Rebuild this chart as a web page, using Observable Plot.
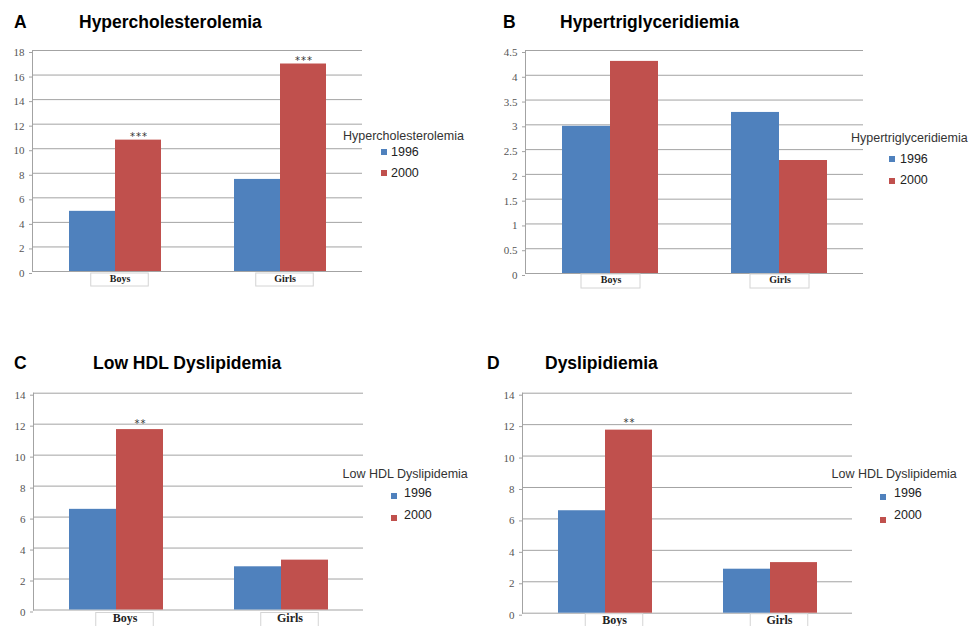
<!DOCTYPE html>
<html>
<head>
<meta charset="utf-8">
<script src="https://cdn.jsdelivr.net/npm/d3@7"></script>
<script src="https://cdn.jsdelivr.net/npm/@observablehq/plot@0.6"></script>
<style>
  body { margin: 0; background: #fff; }
  #root { position: relative; width: 974px; height: 626px; overflow: hidden; background: #fff;
          font-family: "Liberation Sans", Arial, sans-serif; }
  .panel { position: absolute; }
  .panel svg { overflow: visible; }
  .lbl { position: absolute; font-weight: bold; font-size: 17.5px; color: #000; line-height: 1; white-space: nowrap; }
  .legt { position: absolute; font-size: 12.5px; color: #333; line-height: 1; white-space: nowrap; }
  .legi { position: absolute; font-size: 12.5px; color: #222; line-height: 1; white-space: nowrap; }
  .sw { position: absolute; width: 6px; height: 6px; }
  g[aria-label="catlabel"] text { letter-spacing: 1.2px; }
</style>
</head>
<body>
<div id="root"></div>
<script>
// ---------- data ----------
const categories = ["Boys", "Girls"];
const years = ["1996", "2000"];
const colors = ["#4F81BD", "#C0504D"];

const hyperChol1996 = [4.9, 7.5];
const hyperChol2000 = [10.7, 16.9];
const hyperCholSig = ["***", "***"];
const hyperCholTicks = [0, 2, 4, 6, 8, 10, 12, 14, 16, 18];

const hyperTri1996 = [2.97, 3.25];
const hyperTri2000 = [4.28, 2.28];
const hyperTriSig = ["", ""];
const hyperTriTicks = [0, 0.5, 1, 1.5, 2, 2.5, 3, 3.5, 4, 4.5];

const lowHdl1996 = [6.5, 2.79];
const lowHdl2000 = [11.65, 3.22];
const lowHdlSig = ["**", ""];
const lowHdlTicks = [0, 2, 4, 6, 8, 10, 12, 14];

const dys1996 = [6.52, 2.8];
const dys2000 = [11.65, 3.22];
const dysSig = ["**", ""];
const dysTicks = [0, 2, 4, 6, 8, 10, 12, 14];

// ---------- layout (styles & positions only) ----------
const panels = [
  { letter: "A", title: "Hypercholesterolemia", legendTitle: "Hypercholesterolemia",
    v1996: hyperChol1996, v2000: hyperChol2000, sig: hyperCholSig, ticks: hyperCholTicks,
    left: 0, top: 0, width: 487, height: 300, mL: 31, mR: 125, mT: 50, mB: 29, po: 0.78,
    letterX: 14, titleX: 79, titleTop: 13.5,
    legX: 343, legTop: 130.4, swX: 381, sw1: 149, sw2: 170, txtX: 391, t1: 146.4, t2: 167.4,
    catSize: 10, catDy: 10, catDx: 5, boxW: 58, boxTop: 2, boxBot: 15, starDy: -3 },
  { letter: "B", title: "Hypertriglyceridiemia", legendTitle: "Hypertriglyceridiemia",
    v1996: hyperTri1996, v2000: hyperTri2000, sig: hyperTriSig, ticks: hyperTriTicks,
    left: 487, top: 0, width: 487, height: 300, mL: 38, mR: 111, mT: 50, mB: 27, po: 0.76,
    letterX: 503 - 487, titleX: 560 - 487, titleTop: 13.5,
    legX: 851 - 487, legTop: 132.4, swX: 889 - 487, sw1: 156, sw2: 177.5, txtX: 900 - 487, t1: 152.7, t2: 174.4,
    catSize: 10, catDy: 9.6, catDx: 1, boxW: 59, boxTop: 1, boxBot: 15, starDy: -3 },
  { letter: "C", title: "Low HDL Dyslipidemia", legendTitle: "Low HDL Dyslipidemia",
    v1996: lowHdl1996, v2000: lowHdl2000, sig: lowHdlSig, ticks: lowHdlTicks,
    left: 0, top: 313, width: 487, height: 313, mL: 32, mR: 124, mT: 79.7, mB: 16.5, po: 0.74,
    letterX: 14, titleX: 93, titleTop: 355.2 - 313,
    legX: 342.5, legTop: 467.7 - 313, swX: 391, sw1: 493 - 313, sw2: 514.5 - 313, txtX: 404, t1: 487.1 - 313, t2: 508.7 - 313,
    catSize: 12, catDy: 11.5, catDx: 9, boxW: 58, boxTop: 3, boxBot: 30, starDy: -6 },
  { letter: "D", title: "Dyslipidiemia", legendTitle: "Low HDL Dyslipidemia",
    v1996: dys1996, v2000: dys2000, sig: dysSig, ticks: dysTicks,
    left: 487, top: 313, width: 487, height: 313, mL: 34, mR: 122, mT: 79.7, mB: 13.3, po: 0.74,
    letterX: 487 - 487, titleX: 545 - 487, titleTop: 355.2 - 313,
    legX: 831.5 - 487, legTop: 468.4 - 313, swX: 880 - 487, sw1: 494 - 313, sw2: 516.5 - 313, txtX: 894 - 487, t1: 487.1 - 313, t2: 509.4 - 313,
    catSize: 12, catDy: 10.5, catDx: 9.5, boxW: 58, boxTop: 1, boxBot: 30, starDy: -7 }
];

const root = document.getElementById("root");

function el(cls, css, text) {
  const d = document.createElement("div");
  d.className = cls;
  Object.assign(d.style, css);
  if (text != null) d.textContent = text;
  return d;
}

for (const p of panels) {
  const rows = categories.flatMap((c, i) => [
    { cat: c, year: years[0], value: p.v1996[i], sig: "" },
    { cat: c, year: years[1], value: p.v2000[i], sig: p.sig[i] }
  ]);
  const ymax = p.ticks[p.ticks.length - 1];
  const plotH = p.height - p.mT - p.mB;
  const facetW = (p.width - p.mL - p.mR) / categories.length;
  const toUnits = px => -px * ymax / plotH;

  const chart = Plot.plot({
    width: p.width,
    height: p.height,
    marginLeft: p.mL, marginRight: p.mR, marginTop: p.mT, marginBottom: p.mB,
    style: { background: "transparent", overflow: "visible" },
    fx: { domain: categories, padding: 0, axis: null, label: null },
    x: { domain: years, paddingInner: 0, paddingOuter: p.po, axis: null },
    y: { domain: [0, ymax], axis: null },
    color: { domain: years, range: colors },
    marks: [
      Plot.gridY(p.ticks, { stroke: "#a3a3a3", strokeOpacity: 1 }),
      Plot.barY(categories, {
        fx: d => d, y1: toUnits(p.boxTop), y2: toUnits(p.boxBot),
        fill: "white", stroke: "#d4d4d4", strokeWidth: 1,
        insetLeft: (facetW - p.boxW) / 2, insetRight: (facetW - p.boxW) / 2, dx: p.catDx
      }),
      Plot.text(categories, {
        fx: d => d, text: d => d, frameAnchor: "bottom", dy: p.catDy, dx: p.catDx,
        fontFamily: "Liberation Serif", fontWeight: "bold", fontSize: p.catSize, fill: "#222",
        ariaLabel: "catlabel"
      }),
      Plot.barY(rows, { fx: "cat", x: "year", y: "value", fill: "year" }),
      Plot.text(rows.filter(d => d.sig), {
        fx: "cat", x: "year", y: "value", text: "sig", dy: p.starDy,
        fontFamily: "DejaVu Sans Mono", fontSize: 10, fill: "#333"
      }),
      Plot.frame({ anchor: "left", facetAnchor: "left", stroke: "#a3a3a3" }),
      Plot.axisY(p.ticks, {
        tickSize: 3, tickPadding: 5, dy: 2, stroke: "#a3a3a3", fill: "#555",
        fontFamily: "Liberation Serif", fontSize: 11, label: null,
        tickFormat: d => String(d)
      })
    ]
  });

  const panel = el("panel", { left: p.left + "px", top: p.top + "px", width: p.width + "px", height: p.height + "px" });
  panel.appendChild(chart);
  panel.appendChild(el("lbl", { left: p.letterX + "px", top: p.titleTop + "px" }, p.letter));
  panel.appendChild(el("lbl", { left: p.titleX + "px", top: p.titleTop + "px" }, p.title));
  panel.appendChild(el("legt", { left: p.legX + "px", top: p.legTop + "px" }, p.legendTitle));
  panel.appendChild(el("sw", { left: p.swX + "px", top: p.sw1 + "px", background: colors[0] }));
  panel.appendChild(el("sw", { left: p.swX + "px", top: p.sw2 + "px", background: colors[1] }));
  panel.appendChild(el("legi", { left: p.txtX + "px", top: p.t1 + "px" }, years[0]));
  panel.appendChild(el("legi", { left: p.txtX + "px", top: p.t2 + "px" }, years[1]));
  root.appendChild(panel);
}
</script>
</body>
</html>
